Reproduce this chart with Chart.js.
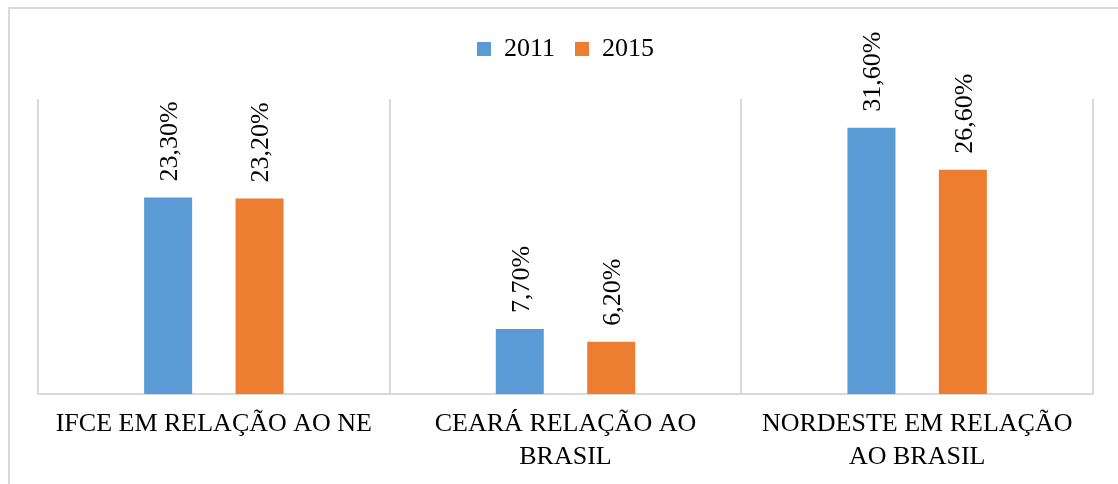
<!DOCTYPE html>
<html>
<head>
<meta charset="utf-8">
<script src="https://cdn.jsdelivr.net/npm/chart.js@4"></script>
<style>
  body { margin: 0; background: #fff; overflow: hidden; }
  #frame {
    position: absolute; left: 8px; top: 7px; width: 1200px; height: 600px;
    border-top: 2px solid #d9d9d9; border-left: 2px solid #d9d9d9;
  }
  #myChart { position: absolute; left: 0; top: 0; }
</style>
</head>
<body>
<div id="frame"></div>
<canvas id="myChart" width="1118" height="484"></canvas>
<script>
const categories = [
  ["IFCE EM RELAÇÃO AO NE"],
  ["CEARÁ RELAÇÃO AO", "BRASIL"],
  ["NORDESTE EM RELAÇÃO", "AO BRASIL"],
];
const years = ["2011", "2015"];
const values2011 = [23.3, 7.7, 31.6];
const values2015 = [23.2, 6.2, 26.6];

const serif = "'Times New Roman', 'Liberation Serif', serif";

function pct(v) {
  return v.toFixed(2).replace(".", ",") + "%";
}

// rotated value labels above each bar
const valueLabels = {
  id: "valueLabels",
  afterDatasetsDraw(chart) {
    const ctx = chart.ctx;
    chart.data.datasets.forEach((ds, i) => {
      const meta = chart.getDatasetMeta(i);
      meta.data.forEach((bar, j) => {
        ctx.save();
        ctx.translate(bar.x + 2, bar.y - 16);
        ctx.rotate(-Math.PI / 2);
        ctx.font = "26px " + serif;
        ctx.fillStyle = "#000";
        ctx.textAlign = "left";
        ctx.textBaseline = "middle";
        ctx.fillText(pct(ds.data[j]), 0, 0);
        ctx.restore();
      });
    });
  },
};

// more room under the legend
const legendGap = {
  id: "legendGap",
  beforeInit(chart) {
    const fit = chart.legend.fit;
    chart.legend.fit = function () {
      fit.bind(chart.legend)();
      this.height += 27;
    };
  },
};

const ctx = document.getElementById("myChart");
new Chart(ctx, {
  type: "bar",
  data: {
    labels: categories,
    datasets: [
      {
        label: years[0],
        data: values2011,
        backgroundColor: "#5b9bd5",
        categoryPercentage: 0.52,
        barPercentage: 0.525,
      },
      {
        label: years[1],
        data: values2015,
        backgroundColor: "#ed7d31",
        categoryPercentage: 0.52,
        barPercentage: 0.525,
      },
    ],
  },
  options: {
    responsive: false,
    animation: false,
    layout: {
      padding: { left: 38, right: 25, top: 16, bottom: -4 },
    },
    plugins: {
      legend: {
        labels: {
          font: { family: serif, size: 26 },
          color: "#000",
          boxWidth: 14,
          boxHeight: 14,
          padding: 20,
        },
      },
      tooltip: { enabled: false },
    },
    scales: {
      x: {
        grid: { color: "#d9d9d9", lineWidth: 2, drawTicks: false },
        border: { color: "#d9d9d9", width: 2 },
        ticks: {
          font: { family: serif, size: 26, lineHeight: 1.27 },
          color: "#000",
          padding: 14,
          maxRotation: 0,
        },
      },
      y: {
        display: false,
        min: 0,
        max: 35,
      },
    },
  },
  plugins: [valueLabels, legendGap],
});
</script>
</body>
</html>
